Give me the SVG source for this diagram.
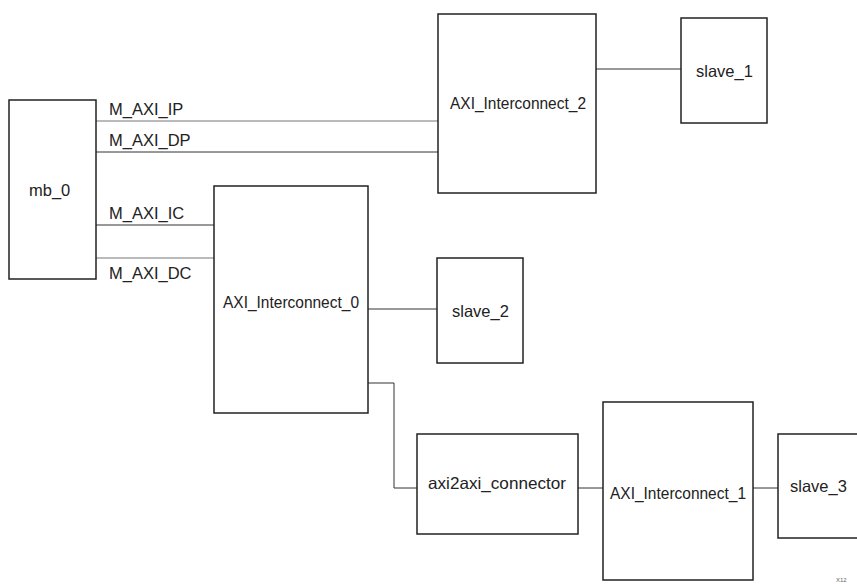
<svg xmlns="http://www.w3.org/2000/svg" width="857" height="584" viewBox="0 0 857 584">
<style>
.box{fill:#fff;stroke:#222;stroke-width:1.5}
.lbl{font-family:"Liberation Sans",Arial,sans-serif;font-size:16.5px;fill:#222}
.c{fill:none;stroke:#333;stroke-width:1}
.g{fill:none;stroke:#777;stroke-width:1}
</style>
<rect width="857" height="584" fill="#fff"/>
<g id="connectors">
<line class="g" x1="96" y1="121" x2="438" y2="121"/>
<line class="c" x1="96" y1="152" x2="438" y2="152"/>
<line class="c" x1="96" y1="225" x2="214" y2="225"/>
<line class="g" x1="96" y1="258" x2="214" y2="258"/>
<line class="c" x1="596" y1="69" x2="681" y2="69"/>
<line class="c" x1="368" y1="309" x2="437" y2="309"/>
<polyline class="c" points="368,383 394,383 394,488 417,488"/>
<line class="c" x1="578" y1="488" x2="603" y2="488"/>
<line class="c" x1="753" y1="488" x2="778" y2="488"/>
</g>
<g id="mb_0">
<rect class="box" x="9" y="100" width="87" height="179"/>
<text class="lbl" x="29" y="196">mb_0</text>
</g>
<g id="port_labels">
<text class="lbl" x="109" y="115">M_AXI_IP</text>
<text class="lbl" x="109" y="146">M_AXI_DP</text>
<text class="lbl" x="109" y="219">M_AXI_IC</text>
<text class="lbl" x="109" y="279">M_AXI_DC</text>
</g>
<g id="AXI_Interconnect_2">
<rect class="box" x="438" y="14" width="158" height="179"/>
<text class="lbl" x="450" y="109" textLength="136" lengthAdjust="spacingAndGlyphs">AXI_Interconnect_2</text>
</g>
<g id="slave_1">
<rect class="box" x="681" y="18" width="86" height="105"/>
<text class="lbl" x="696" y="77">slave_1</text>
</g>
<g id="AXI_Interconnect_0">
<rect class="box" x="214" y="186" width="154" height="227"/>
<text class="lbl" x="223" y="308" textLength="136" lengthAdjust="spacingAndGlyphs">AXI_Interconnect_0</text>
</g>
<g id="slave_2">
<rect class="box" x="437" y="258" width="86" height="105"/>
<text class="lbl" x="452" y="317">slave_2</text>
</g>
<g id="axi2axi_connector">
<rect class="box" x="417" y="434" width="161" height="100"/>
<text class="lbl" x="428" y="489" textLength="138" lengthAdjust="spacingAndGlyphs">axi2axi_connector</text>
</g>
<g id="AXI_Interconnect_1">
<rect class="box" x="603" y="402" width="150" height="178"/>
<text class="lbl" x="610" y="499" textLength="136" lengthAdjust="spacingAndGlyphs">AXI_Interconnect_1</text>
</g>
<g id="slave_3">
<rect class="box" x="778" y="434" width="90" height="104"/>
<text class="lbl" x="790" y="492">slave_3</text>
</g>
<text x="836" y="582" font-family="Liberation Sans,Arial,sans-serif" font-size="6" fill="#666">X12</text>
</svg>
